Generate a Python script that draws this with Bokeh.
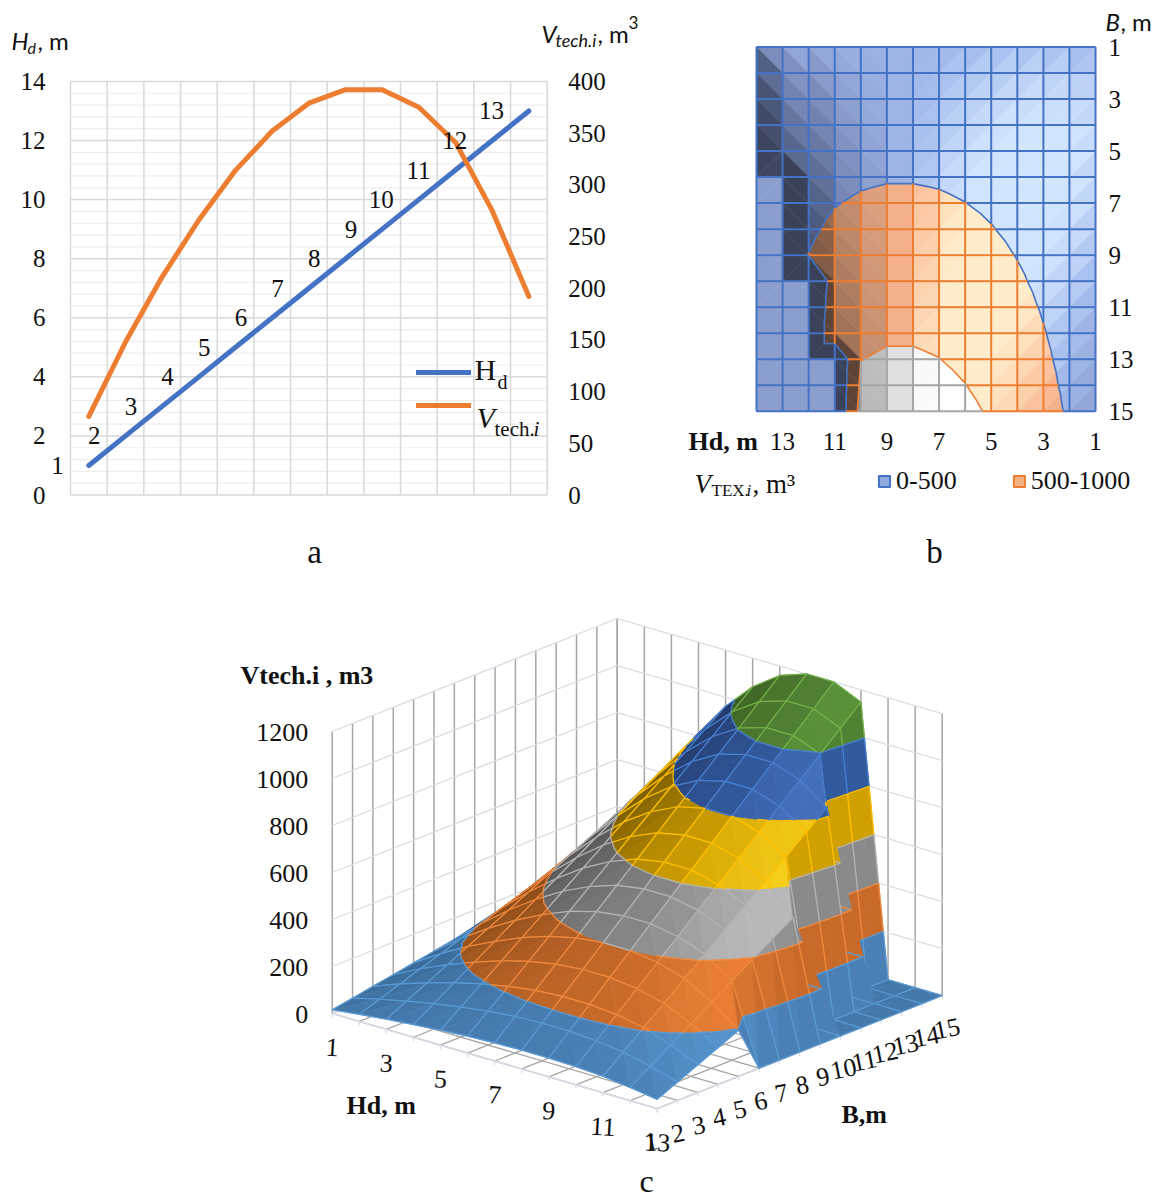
import numpy as np
from bokeh.plotting import figure
from bokeh.models import (Range1d, LinearAxis, Label, Legend, LegendItem, FixedTicker,
                          ColumnDataSource)
from bokeh.layouts import row, column
from bokeh.core.properties import value
from bokeh.embed import file_html
from bokeh.resources import INLINE

# ---------- data ----------
hd_a = list(range(1, 14))
hd_line = [1, 2, 3, 4, 5, 6, 7, 8, 9, 10, 11, 12, 13]
v_tech_a = [76, 148, 211, 266, 314, 352, 379, 392, 392, 375, 341, 275, 192]

b_values = list(range(1, 16))
v_hd_1 = [16, 31, 47, 62, 78, 93, 109, 124, 140, 155, 171, 186, 202, 217, 233]
v_hd_2 = [30, 60, 91, 121, 151, 181, 211, 242, 272, 302, 332, 362, 393, 423, 453]
v_hd_3 = [43, 86, 129, 172, 215, 258, 301, 345, 388, 431, 474, 517, 560, 603, 646]
v_hd_4 = [54, 109, 163, 217, 271, 326, 380, 434, 489, 543, 597, 652, 706, 760, 814]
v_hd_5 = [64, 128, 192, 256, 320, 384, 449, 513, 577, 641, 705, 769, 833, 897, 961]
v_hd_6 = [72, 144, 215, 287, 359, 431, 503, 575, 647, 718, 790, 862, 934, 1006, 1078]
v_hd_7 = [77, 155, 232, 309, 387, 464, 541, 619, 696, 773, 851, 928, 1005, 1083, 1160]
v_hd_8 = [80, 160, 240, 320, 400, 480, 560, 640, 720, 800, 880, 960, 1040, 1120, 1200]
v_hd_9 = [80, 160, 240, 320, 400, 480, 560, 640, 720, 800, 880, 960, 1040, 1120, 1200]
v_hd_10 = [77, 153, 230, 306, 383, 459, 536, 612, 689, 765, 842, 918, 995, 1071, 1148]
v_hd_11 = [70, 139, 209, 278, 348, 417, 487, 557, 626, 696, 766, 835, 0, 0, 0]
v_hd_12 = [56, 112, 168, 224, 281, 337, 393, 449, 505, 0, 0, 0, 0, 0, 0]
v_hd_13 = [39, 78, 118, 157, 196, 0, 0, 0, 0, 0, 0, 0, 0, 0, 0]
v_hd_14 = [0, 0, 0, 0, 0, 0, 0, 0, 0, 0, 0, 0, 0, 0, 0]
V = np.array([v_hd_1, v_hd_2, v_hd_3, v_hd_4, v_hd_5, v_hd_6, v_hd_7, v_hd_8, v_hd_9,
              v_hd_10, v_hd_11, v_hd_12, v_hd_13, v_hd_14], dtype=float)

bands_b = [0, 500, 1000, 1500]
bands_c = [0, 200, 400, 600, 800, 1000, 1400]
z_ticks = [0, 200, 400, 600, 800, 1000, 1200]
hd_ticks_a = [0, 2, 4, 6, 8, 10, 12, 14]
v_ticks_a = [0, 50, 100, 150, 200, 250, 300, 350, 400]

SERIF = "Liberation Serif"
SANS = "Lato"
BLUE = "#4472C4"
ORANGE = "#ED7D31"
INK = "#111111"

def hexc(rgb):
    return "#%02x%02x%02x" % tuple(int(max(0, min(255, round(c)))) for c in rgb)

def rgb(h):
    return [int(h[i:i + 2], 16) for i in (1, 3, 5)]

def ramp(dot, stops, cols):
    arr = np.array([rgb(c) for c in cols], dtype=float)
    return hexc([np.interp(dot, stops, arr[:, k]) for k in range(3)])

def clip_poly(poly, lo, hi):
    def cut(pts, level, keep_above):
        out = []
        n = len(pts)
        for i in range(n):
            a, b = pts[i], pts[(i + 1) % n]
            ina = a[2] >= level if keep_above else a[2] <= level
            inb = b[2] >= level if keep_above else b[2] <= level
            if ina:
                out.append(a)
            if ina != inb:
                t = (level - a[2]) / (b[2] - a[2])
                out.append(tuple(a[k] + t * (b[k] - a[k]) for k in range(3)))
        return out
    p = cut(poly, lo, True)
    if p:
        p = cut(p, hi, False)
    return p

def seg_band(a, b, lo, hi):
    va, vb = a[2], b[2]
    if max(va, vb) < lo or min(va, vb) > hi:
        return None
    if va == vb:
        return (a, b) if lo <= va < hi else None
    t0 = (lo - va) / (vb - va)
    t1 = (hi - va) / (vb - va)
    t0, t1 = min(t0, t1), max(t0, t1)
    t0, t1 = max(t0, 0), min(t1, 1)
    if t1 <= t0:
        return None
    f = lambda t: tuple(a[k] + t * (b[k] - a[k]) for k in range(3))
    return f(t0), f(t1)

def contour(tri, level):
    pts = []
    for i in range(3):
        a, b = tri[i], tri[(i + 1) % 3]
        if (a[2] - level) * (b[2] - level) < 0:
            t = (level - a[2]) / (b[2] - a[2])
            pts.append(tuple(a[k] + t * (b[k] - a[k]) for k in range(3)))
    return pts if len(pts) == 2 else None

def cell_tris(i, j):
    """Cell between Hd index i,i+1 and B index j,j+1: diagonal follows upper hull."""
    P = lambda a, b: (a + 1.0, b + 1.0, V[a, b])
    A, B, C, D = P(i, j), P(i + 1, j), P(i + 1, j + 1), P(i, j + 1)
    if A[2] + C[2] >= B[2] + D[2]:
        return [(A, B, C), (A, C, D)]
    return [(A, B, D), (B, C, D)]

SLOPE = 1 / 150.0

def normal(tri):
    u = np.array([tri[1][0] - tri[0][0], tri[1][1] - tri[0][1], (tri[1][2] - tri[0][2]) * SLOPE])
    w = np.array([tri[2][0] - tri[0][0], tri[2][1] - tri[0][1], (tri[2][2] - tri[0][2]) * SLOPE])
    n = np.cross(u, w)
    if n[2] < 0:
        n = -n
    return n

def lit(tri, L):
    n = normal(tri)
    return float(np.dot(n / np.linalg.norm(n), L / np.linalg.norm(L)))

def style_axis(ax, standoff):
    ax.axis_line_color = None
    ax.major_tick_line_color = None
    ax.minor_tick_line_color = None
    ax.major_label_text_font = SERIF
    ax.major_label_text_font_size = "25px"
    ax.major_label_text_color = INK
    ax.major_label_standoff = standoff

# ---------- panel a: frame spans the canvas, axes sit at fixed data locations ----------
A_W, A_H = 650, 570
AX0, AUX = 70.0, 36.67     # pixel of x=0.5 and pixels per Hd step
AY0, AUY = 494.5, 29.54    # pixel of y=0 and pixels per y unit
a = figure(width=A_W, height=A_H, output_backend="svg", toolbar_location=None,
           x_axis_location=None, y_axis_location=None, min_border=0, frame_align=False,
           x_range=Range1d(0.5 - AX0 / AUX, 0.5 + (A_W - AX0) / AUX),
           y_range=Range1d((AY0 - A_H) / AUY, AY0 / AUY))
a.extra_y_ranges = {"v": Range1d((AY0 - A_H) / AUY * 400 / 14, AY0 / AUY * 400 / 14)}
a.outline_line_color = None
a.grid.visible = False
left_a = LinearAxis(fixed_location=0.5, ticker=FixedTicker(ticks=hd_ticks_a))
right_a = LinearAxis(fixed_location=13.5, y_range_name="v", ticker=FixedTicker(ticks=v_ticks_a))
a.add_layout(left_a, "left")
a.add_layout(right_a, "right")
style_axis(left_a, 19)
style_axis(right_a, 15)

minor_y = [m * 0.4 for m in range(36) if m % 5]
a.segment(x0=[0.5] * len(minor_y), x1=[13.5] * len(minor_y), y0=minor_y, y1=minor_y,
          line_color="#EEEEEE", line_width=1.2)
cat_edges = [x + 0.5 for x in range(0, 14)]
a.segment(x0=cat_edges, x1=cat_edges, y0=[0] * 14, y1=[14] * 14, line_color="#D9D9D9", line_width=1.5)
a.segment(x0=[0.5] * 8, x1=[13.5] * 8, y0=hd_ticks_a, y1=hd_ticks_a, line_color="#D9D9D9", line_width=1.5)
r_hd = a.line(hd_a, hd_line, line_color=BLUE, line_width=5, line_cap="round", line_join="round")
r_v = a.line(hd_a, v_tech_a, y_range_name="v", line_color=ORANGE, line_width=5, line_cap="round", line_join="round")
a.text(hd_a, hd_line, text=[str(h) for h in hd_a], text_font=value(SERIF), text_font_size=value("25px"),
       text_align="right", text_baseline="middle", x_offset=-25, text_color=INK)
leg_a = Legend(items=[LegendItem(label=value(""), renderers=[r_hd]), LegendItem(label=value(""), renderers=[r_v])],
               location=(416, 158), glyph_width=55, glyph_height=14, spacing=19, padding=0, margin=0,
               label_standoff=0, label_width=0, label_height=14, background_fill_alpha=0, border_line_color=None)
a.add_layout(leg_a, "center")

def lab_a(px, py, text, size, font=SERIF, style="normal", align="left", color=INK):
    a.add_layout(Label(x=0.5 + (px - AX0) / AUX, y=(AY0 - py) / AUY, text=text, text_font=font,
                       text_font_size=f"{size}px", text_font_style=style, text_align=align,
                       text_baseline="middle", text_color=color))

lab_a(474, 369, "H", 30)
lab_a(497, 381, "d", 20)
lab_a(476, 417, "V", 30, style="italic")
lab_a(494, 428, "tech.", 21)
lab_a(533, 428, "i", 21, style="italic")
lab_a(11, 40, "H", 24, SANS, "italic")
lab_a(27, 47, "d", 16, SANS, "italic")
lab_a(37, 40, ", m", 24, SANS)
lab_a(541, 33, "V", 24, SANS, "italic")
lab_a(555, 39, "tech.i", 18, SANS, "italic")
lab_a(597, 33, ", m", 24, SANS)
lab_a(628, 22, "3", 17, SANS)
lab_a(314, 551, "a", 33, align="center")

# ---------- panel b ----------
B_L, B_W, B_H = 650, 505, 570
BPX, BUX = 756.0, 26.08    # pixel of Hd=14 and pixels per Hd step
BPY, BUY = 46.5, 26.02     # pixel of B=1 and pixels per B step
b = figure(width=B_W, height=B_H, output_backend="svg", toolbar_location=None,
           x_axis_location=None, y_axis_location=None, min_border=0, frame_align=False,
           x_range=Range1d(14 + (BPX - B_L) / BUX, 14 - (B_L + B_W - BPX) / BUX),
           y_range=Range1d(1 + (B_H - BPY) / BUY, 1 - BPY / BUY))
b.grid.visible = False
b.outline_line_color = None
bot_b = LinearAxis(fixed_location=15, ticker=FixedTicker(ticks=[13, 11, 9, 7, 5, 3, 1]))
right_b = LinearAxis(fixed_location=1, ticker=FixedTicker(ticks=[1, 3, 5, 7, 9, 11, 13, 15]))
b.add_layout(bot_b, "below")
b.add_layout(right_b, "right")
style_axis(bot_b, 16)
style_axis(right_b, 7)

L_b = np.array([-0.47, -0.40, 1.0])
stops_b = [0.15, 0.55, 0.82, 0.93, 1.0]
ramps_b = [["#394258", "#4d5c80", "#8294c4", "#a3bcec", "#d2e5ff"],
           ["#5e4436", "#8a6048", "#d09878", "#fbb48f", "#ffecca"],
           ["#8c8c8c", "#9a9a9a", "#c4c4c4", "#e6e6e6", "#ffffff"]]
line_b = [BLUE, ORANGE, "#A5A5A5"]
fx, fy, fc, lx, ly, lc, lw = [], [], [], [], [], [], []
for i in range(13):
    for j in range(14):
        for tri in cell_tris(i, j):
            d = lit(tri, L_b)
            n = normal(tri)
            d += 0.03 * min(max(-n[0] / n[2], 0), 1.5)
            for k in range(3):
                poly = clip_poly(list(tri), bands_b[k], bands_b[k + 1])
                if len(poly) >= 3:
                    fx.append([q[0] for q in poly])
                    fy.append([q[1] for q in poly])
                    fc.append(ramp(d, stops_b, ramps_b[k]))
            for k, level in enumerate(bands_b[1:3]):
                seg = contour(tri, level)
                if seg:
                    lx.append([seg[0][0], seg[1][0]])
                    ly.append([seg[0][1], seg[1][1]])
                    lc.append(line_b[k])
                    lw.append(1.6)
for i in range(14):
    for j in range(15):
        P0 = (i + 1.0, j + 1.0, V[i, j])
        nbrs = []
        if i < 13:
            nbrs.append((i + 2.0, j + 1.0, V[i + 1, j]))
        if j < 14:
            nbrs.append((i + 1.0, j + 2.0, V[i, j + 1]))
        for P1 in nbrs:
            for k in range(3):
                seg = seg_band(P0, P1, bands_b[k], bands_b[k + 1])
                if seg:
                    lx.append([seg[0][0], seg[1][0]])
                    ly.append([seg[0][1], seg[1][1]])
                    lc.append(line_b[k])
                    lw.append(2.0)
b.patches(xs="xs", ys="ys", fill_color="c", line_color="c", line_width=0.6,
          source=ColumnDataSource(dict(xs=fx, ys=fy, c=fc)))
b.multi_line(xs="xs", ys="ys", line_color="c", line_width="w",
             source=ColumnDataSource(dict(xs=lx, ys=ly, c=lc, w=lw)))
nan = float("nan")
key1 = b.quad(left=[nan], right=[nan], top=[nan], bottom=[nan], fill_color="#8FAADC", line_color=BLUE, line_width=2)
key2 = b.quad(left=[nan], right=[nan], top=[nan], bottom=[nan], fill_color="#F4B183", line_color=ORANGE, line_width=2)
leg_b = Legend(items=[LegendItem(label=value("0-500"), renderers=[key1]),
                      LegendItem(label=value("500-1000"), renderers=[key2])],
               orientation="horizontal", location=(227, 74), glyph_width=14, glyph_height=14,
               spacing=55, padding=0, margin=0, label_standoff=5,
               label_text_font=SERIF, label_text_font_size="26px", label_text_color=INK,
               label_height=28, background_fill_alpha=0, border_line_color=None)
b.add_layout(leg_b, "center")

def lab_b(px, py, text, size, font=SERIF, style="normal", align="left"):
    b.add_layout(Label(x=14 - (px - BPX) / BUX, y=1 + (py - BPY) / BUY, text=text, text_font=font,
                       text_font_size=f"{size}px", text_font_style=style, text_align=align,
                       text_baseline="middle", text_color=INK))

lab_b(688, 441, "Hd, m", 26, style="bold")
lab_b(1105, 21, "B", 24, SANS, "italic")
lab_b(1120, 21, ", m", 24, SANS)
lab_b(694, 483, "V", 27, style="italic")
lab_b(711, 490, "TEX.", 17)
lab_b(746, 490, "i", 17, style="italic")
lab_b(752, 483, ", m³", 27)
lab_b(934, 551, "b", 33, align="center")

# ---------- panel c ----------
c = figure(width=1155, height=630, output_backend="svg", toolbar_location=None,
           x_range=Range1d(0, 1155), y_range=Range1d(1200, 570), min_border=0, frame_align=False)
c.axis.visible = False
c.grid.visible = False
c.outline_line_color = None

X0, Y0 = 331.7, 1013.0
HX, HY, BX, BY, ZY = 27.08, 7.92, 20.36, -8.07, -0.235

def pr(h, bb, v):
    return X0 + (h - 1) * HX + (bb - 1) * BX, Y0 + (h - 1) * HY + (bb - 1) * BY + v * ZY

L_c = np.array([0.9, -0.5, 1.0])
stops_c = [0.15, 0.55, 0.82, 1.04]
ramps_c = [["#2f5f8c", "#3d6f9f", "#4a80b5", "#5b9bd5"],
           ["#7d4210", "#a0561f", "#c76a2a", "#f5853a"],
           ["#4c4c4c", "#6a6a6a", "#8a8a8a", "#c4c4c4"],
           ["#6e5200", "#9a7400", "#d0a000", "#ffd820"],
           ["#1c3360", "#2a4a86", "#325a9e", "#4c78c6"],
           ["#33541c", "#46702a", "#4f8233", "#64a040"]]
line_c = ["#5B9BD5", "#F08A40", "#B4B4B4", "#FFC000", "#4A80D0", "#74B24A"]

wx, wy, wc, ww = [], [], [], []
def wline(p, q, col, w):
    wx.append([p[0], q[0]])
    wy.append([p[1], q[1]])
    wc.append(col)
    ww.append(w)

WV, WH = "#A6A6A6", "#D9DCE6"
for bb in b_values:
    wline(pr(1, bb, 0), pr(1, bb, 1200), WV, 1.5)
    wline(pr(1, bb, 0), pr(13, bb, 0), WV, 1.3)
for h in hd_a:
    wline(pr(h, 15, 0), pr(h, 15, 1200), WV, 1.5)
    wline(pr(h, 1, 0), pr(h, 15, 0), WV, 1.3)
    tp = pr(h, 1, 0)
    wline(tp, (tp[0], tp[1] + 4), WH, 1.3)
for bb in b_values:
    tp = pr(13, bb, 0)
    wline(tp, (tp[0], tp[1] + 4), WH, 1.3)
for z in z_ticks:
    wline(pr(1, 1, z), pr(1, 15, z), WH, 1.3)
    wline(pr(1, 15, z), pr(13, 15, z), WH, 1.3)
wline(pr(1, 1, 0), pr(13, 1, 0), WH, 1.5)
wline(pr(13, 1, 0), pr(13, 15, 0), WH, 1.5)
c.multi_line(xs="xs", ys="ys", line_color="c", line_width="w",
             source=ColumnDataSource(dict(xs=wx, ys=wy, c=wc, w=ww)))

sx, sy, sf, sa, sl, sw = [], [], [], [], [], []
def push(pts, fill, lcol, lwid, alpha=1.0):
    xy = [pr(*q) for q in pts]
    sx.append([q[0] for q in xy])
    sy.append([q[1] for q in xy])
    sf.append(fill)
    sa.append(alpha)
    sl.append(lcol)
    sw.append(lwid)

nb = len(bands_c) - 1
for i in range(12):
    for j in range(13, -1, -1):
        tris = cell_tris(i, j)
        tris.sort(key=lambda t: sum(q[0] * 27 - q[1] * 20 for q in t))
        for tri in tris:
            d = lit(tri, L_c)
            if max(q[2] for q in tri) - min(q[2] for q in tri) > 250:
                d = max(d, 0.82)
            for k in range(nb):
                poly = clip_poly(list(tri), bands_c[k], bands_c[k + 1])
                if len(poly) >= 3:
                    col = ramp(d, stops_c, ramps_c[k])
                    push(poly, col, col, 0.7)
        for tri in tris:
            for k, level in enumerate(bands_c[1:-1]):
                seg = contour(tri, level)
                if seg:
                    push(list(seg), "#000000", line_c[k], 1.3, 0.0)
        corners = [(i, j), (i + 1, j), (i + 1, j + 1), (i, j + 1)]
        for m in range(4):
            p0, p1 = corners[m], corners[(m + 1) % 4]
            A = (p0[0] + 1.0, p0[1] + 1.0, V[p0])
            B = (p1[0] + 1.0, p1[1] + 1.0, V[p1])
            for k in range(nb):
                seg = seg_band(A, B, bands_c[k], bands_c[k + 1])
                if seg:
                    push(list(seg), "#000000", line_c[k], 1.2, 0.0)

c.patches(xs="xs", ys="ys", fill_color="f", fill_alpha="a", line_color="l", line_width="w",
          source=ColumnDataSource(dict(xs=sx, ys=sy, f=sf, a=sa, l=sl, w=sw)))

hd_lab = [1, 3, 5, 7, 9, 11, 13]
hx = [pr(h, 1, 0)[0] for h in hd_lab]
hy = [pr(h, 1, 0)[1] + 34 for h in hd_lab]
c.text(hx, hy, text=[str(h) for h in hd_lab], text_font=value(SERIF), text_font_size=value("26px"),
       text_align="center", text_baseline="middle", angle=-0.06, text_color=INK)
bx = [pr(13, v, 0)[0] + (-6 if v == 1 else 0) + (v - 1) * 0.35 for v in b_values]
by = [pr(13, v, 0)[1] + 33 for v in b_values]
c.text(bx, by, text=[str(v) for v in b_values], text_font=value(SERIF), text_font_size=value("26px"),
       text_align="center", text_baseline="middle", angle=0.2, text_color=INK)
zx = [pr(1, 1, z)[0] - 24 for z in z_ticks]
zy = [pr(1, 1, z)[1] + 1 for z in z_ticks]
c.text(zx, zy, text=[str(z) for z in z_ticks], text_font=value(SERIF), text_font_size=value("26px"),
       text_align="right", text_baseline="middle", text_color=INK)

def lab_c(px, py, text, size, style="normal", align="left", base="middle"):
    c.add_layout(Label(x=px, y=py, text=text, text_font=SERIF, text_font_size=f"{size}px",
                       text_font_style=style, text_align=align, text_baseline=base, text_color=INK))

lab_c(240, 675, "Vtech.i , m3", 26, "bold")
lab_c(346, 1105, "Hd, m", 26, "bold")
lab_c(841, 1114, "B,m", 26, "bold")
lab_c(646, 1180, "c", 32, align="center")

page = column(row(a, b, spacing=0), c, spacing=0)
open("out.html", "w").write(file_html(page, INLINE))
